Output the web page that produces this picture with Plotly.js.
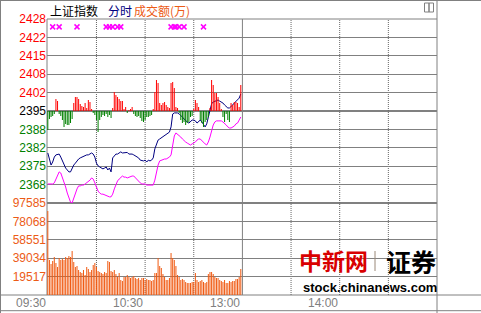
<!DOCTYPE html>
<html><head><meta charset="utf-8">
<script src="https://cdn.plot.ly/plotly-3.0.1.min.js"></script>
<style>html,body{margin:0;padding:0;background:#fff;}#chart{width:481px;height:313px;}</style>
</head><body><div id="chart"></div>
<script>
const prevClose = 2395.3;
const timeLabels = ['09:30', '10:30', '13:00', '14:00'];
const timeLabelMinutes = [0, 60, 120, 180];
const priceLabels = ['2368', '2375', '2382', '2388', '2395', '2402', '2408', '2415', '2422', '2428'];
const pctLabels = ['1.12%', '0.84%', '0.56%', '0.28%', '0.00%', '0.28%', '0.56%', '0.84%', '1.12%', '1.40%'];
const pctSteps = [-1.12, -0.84, -0.56, -0.28, 0, 0.28, 0.56, 0.84, 1.12, 1.40];
const volTicks = [19517, 39034, 58551, 78068, 97585];
const volLabels = ['19517', '39034', '58551', '78068', '97585'];

// minute index from 09:30
const indexPrice = [
2380.0,2378.2,2375.6,2376.7,2378.5,2379.3,2379.6,2379.6,2378.5,2377.1,
2375.6,2374.5,2373.8,2373.1,2373.1,2374.5,2375.6,2376.3,2377.1,2377.8,
2378.2,2378.5,2378.9,2378.9,2379.3,2379.3,2379.6,2380.0,2379.6,2378.5,
2376.3,2375.3,2374.9,2374.5,2374.2,2374.5,2374.9,2373.8,2374.5,2373.1,
2378.2,2378.9,2379.6,2379.6,2380.0,2380.4,2380.0,2380.0,2380.0,2380.2,
2379.6,2379.6,2379.6,2379.3,2378.9,2378.5,2378.2,2377.4,2377.1,2377.1,
2377.4,2376.7,2377.4,2377.1,2377.4,2378.2,2381.5,2382.9,2384.7,2385.1,
2385.5,2385.8,2386.2,2386.6,2386.9,2387.6,2389.5,2394.2,2394.6,2394.6,
2394.6,2394.2,2393.8,2393.1,2392.4,2391.7,2391.3,2390.9,2391.3,2392.0,
2392.0,2391.7,2390.9,2391.3,2392.0,2391.3,2390.2,2389.5,2390.6,2392.7,
2394.9,2397.9,2398.6,2398.9,2398.9,2399.3,2398.9,2398.6,2398.2,2397.5,
2396.8,2396.4,2396.4,2396.8,2397.5,2398.2,2398.9,2399.3,2400.0,2401.5
];
const leadPrice = [
2368.7,2368.7,2368.7,2368.7,2369.1,2370.5,2372.0,2373.1,2372.7,2371.2,
2369.4,2367.6,2365.4,2363.6,2362.1,2361.8,2363.6,2365.4,2366.9,2368.0,
2368.0,2368.3,2368.3,2368.7,2369.1,2369.4,2370.1,2370.9,2370.5,2369.1,
2367.6,2366.1,2365.4,2365.0,2365.0,2364.7,2364.7,2364.3,2364.0,2364.0,
2365.0,2366.9,2368.7,2369.8,2370.5,2371.2,2371.6,2371.2,2371.2,2370.9,
2371.2,2371.6,2371.6,2371.6,2370.9,2370.5,2369.8,2369.1,2368.7,2368.7,
2368.7,2368.3,2368.3,2368.3,2368.3,2368.3,2370.1,2373.1,2375.6,2377.1,
2377.4,2377.4,2377.8,2377.8,2378.2,2378.5,2379.3,2382.9,2386.2,2387.3,
2386.9,2386.2,2385.8,2385.1,2384.4,2384.0,2383.6,2383.3,2382.9,2383.3,
2383.6,2384.0,2384.7,2385.1,2385.1,2384.4,2384.0,2383.3,2382.9,2384.0,
2385.8,2388.0,2390.2,2391.3,2391.7,2391.7,2391.7,2391.7,2391.3,2390.9,
2390.2,2389.5,2389.1,2389.1,2389.5,2389.8,2390.6,2390.9,2392.0,2393.1
];
const strength = [
-19,-8,-6,-5,-3,12,10,-3,-5,-9,
-16,-13,-14,-14,-12,-8,8,14,14,12,
7,5,4,8,3,11,9,2,-2,-4,
-9,-21,-9,-6,-4,-5,-3,-6,-4,-7,
3,19,16,14,12,10,10,2,4,-2,
1,2,4,-3,-5,-6,-5,-7,-10,-11,
-9,-6,-6,-5,-4,2,19,31,28,8,
6,8,9,6,4,3,28,29,23,4,
3,-2,-9,-12,-11,-14,-12,-11,-6,-5,
2,11,8,4,-9,-12,-16,-11,-9,-6,
3,31,26,18,18,14,8,2,-6,-11,
-3,-9,-11,8,6,9,9,8,4,26
];
const volume = [
89120,37140,32890,36070,40320,33950,29710,39260,37140,38200,
37140,40320,39260,41380,40320,46680,35010,29710,30770,26530,
24400,23340,26530,21220,29710,27590,24400,26530,31830,33950,
29710,25460,24400,23340,22280,24400,23340,36070,35010,25460,
24400,26530,22280,19100,23340,15920,14850,19100,19100,21220,
19100,18040,19100,20160,18040,16980,18040,15920,18040,18040,
15920,16980,15920,15920,14850,15920,23340,23340,39260,30770,
28650,22280,19100,15920,15920,18040,44560,39260,37140,30770,
21220,19100,15920,16980,15920,13790,12730,12730,12730,13790,
13790,23340,15920,13790,14850,15920,13790,12730,13790,22280,
24400,24400,22280,19100,18040,18040,15920,14850,13790,15920,
12730,12730,14850,13790,14850,14850,16980,16980,19100,27590
];
const markerMinutes = [3, 7, 18, 36, 38, 40, 43, 45, 76, 78, 79, 81, 84, 96];

const minutes = indexPrice.map((_, i) => i);
const RED = '#ff0000', GREEN = '#008000', ORANGE = '#ec5b16', GRID = '#808080';
const priceTicks = pctSteps.map(p => prevClose * (1 + p / 100));
const colorFor = (k) => k < 4 ? GREEN : (k === 4 ? '#000000' : RED);
const leftText = priceLabels.map((t, k) => `<span style="color:${colorFor(k)}">${t}</span>`);
const rightText = pctLabels.map((t, k) => `<span style="color:${colorFor(k)}">${t}</span>`);
const markerLevel = prevClose * (1 + 1.28 / 100);

const traces = [
  {type: 'bar', x: minutes, y: volume, xaxis: 'x', yaxis: 'y3', width: 0.62,
   marker: {color: '#f05a12', line: {width: 0}}, hoverinfo: 'skip'},
  {type: 'bar', x: minutes, y: strength, xaxis: 'x', yaxis: 'y5', width: 0.62,
   marker: {color: strength.map(v => v >= 0 ? RED : GREEN), line: {width: 0}}, hoverinfo: 'skip'},
  {type: 'scatter', mode: 'lines', x: minutes, y: leadPrice, xaxis: 'x', yaxis: 'y',
   line: {color: '#ff00ff', width: 1}, hoverinfo: 'skip'},
  {type: 'scatter', mode: 'lines', x: minutes, y: indexPrice, xaxis: 'x', yaxis: 'y',
   line: {color: '#000080', width: 1}, hoverinfo: 'skip'},
  {type: 'scatter', mode: 'markers', x: markerMinutes, y: markerMinutes.map(() => markerLevel),
   xaxis: 'x', yaxis: 'y', marker: {symbol: 'x-thin-open', size: 5, color: '#ff00ff', line: {width: 1.5, color: '#ff00ff'}},
   hoverinfo: 'skip'}
];

const px = (p) => (p - 47) / 390;
const py = (p) => (295 - p) / 276;
const lineShape = (o) => Object.assign({type: 'line', layer: 'below', line: {color: GRID, width: 1}}, o);

const shapes = [
  lineShape({xref: 'paper', yref: 'paper', x0: px(0), x1: px(481), y0: py(0.5), y1: py(0.5)}),
  lineShape({xref: 'paper', yref: 'paper', x0: px(0.5), x1: px(0.5), y0: py(0), y1: py(313)}),
  lineShape({xref: 'paper', yref: 'paper', x0: 1, x1: 1, y0: py(0), y1: py(313)}),
  lineShape({xref: 'paper', yref: 'paper', x0: px(0), x1: px(481), y0: 0, y1: 0}),
  lineShape({xref: 'paper', yref: 'paper', x0: px(0), x1: px(481), y0: py(310.7), y1: py(310.7)}),
  lineShape({xref: 'paper', yref: 'paper', x0: 0, x1: 0, y0: 0, y1: 1}),
  lineShape({xref: 'paper', yref: 'paper', x0: 0, x1: 1, y0: 1, y1: 1}),
  lineShape({xref: 'paper', yref: 'y', x0: 0, x1: 1, y0: prevClose, y1: prevClose, line: {color: GRID, width: 2}}),
  lineShape({xref: 'paper', yref: 'paper', x0: 0, x1: 1, y0: 92 / 276, y1: 92 / 276, line: {color: GRID, width: 2}}),
  lineShape({xref: 'x', yref: 'paper', x0: 120, x1: 120, y0: 0, y1: 1}),
  ...[30, 60, 90, 150, 180, 210].map(m => lineShape({xref: 'x', yref: 'paper', x0: m, x1: m, y0: 0, y1: 1,
     line: {color: '#666666', width: 1, dash: '1px,1px'}})),
  {type: 'line', layer: 'above', xref: 'paper', yref: 'paper', x0: px(375), x1: px(375), y0: py(251), y1: py(271),
   line: {color: '#9a8878', width: 1}},
  {type: 'rect', layer: 'above', xref: 'paper', yref: 'paper', x0: px(424.5), x1: px(429), y0: py(3), y1: py(12),
   line: {color: GRID, width: 1}},
  {type: 'rect', layer: 'above', xref: 'paper', yref: 'paper', x0: px(429), x1: px(433.5), y0: py(3), y1: py(12),
   line: {color: GRID, width: 1}}
];

const annFont = {family: 'Liberation Sans, Arial, sans-serif', size: 12, color: GRID};
const annotations = [
  ...timeLabels.map((t, i) => ({xref: 'x', yref: 'paper', x: timeLabelMinutes[i], y: py(303), text: t,
     xanchor: 'right', yanchor: 'middle', showarrow: false, font: annFont})),
  {xref: 'paper', yref: 'paper', x: px(48), y: py(10), text: '上证指数', xanchor: 'left', yanchor: 'middle',
   showarrow: false, font: {family: 'Noto Sans CJK SC', size: 12, color: '#000000'}},
  {xref: 'paper', yref: 'paper', x: px(106), y: py(10), text: '分时', xanchor: 'left', yanchor: 'middle',
   showarrow: false, font: {family: 'Noto Sans CJK SC', size: 12, color: '#000080'}},
  {xref: 'paper', yref: 'paper', x: px(132), y: py(10), text: '成交额(万)', xanchor: 'left', yanchor: 'middle',
   showarrow: false, font: {family: 'Noto Sans CJK SC', size: 12, color: ORANGE}},
  {xref: 'paper', yref: 'paper', x: px(333), y: py(260), text: '<b>中新网</b>', xanchor: 'center', yanchor: 'middle',
   showarrow: false, font: {family: 'Noto Sans CJK SC', size: 23, color: '#d90000'}},
  {xref: 'paper', yref: 'paper', x: px(411), y: py(261), text: '<b>证券</b>', xanchor: 'center', yanchor: 'middle',
   showarrow: false, font: {family: 'Noto Sans CJK SC', size: 25, color: '#000000'}},
  {xref: 'paper', yref: 'paper', x: px(370), y: py(287), text: '<b>stock.chinanews.com</b>', xanchor: 'center', yanchor: 'middle',
   showarrow: false, font: {family: 'Liberation Sans, Arial, sans-serif', size: 13, color: '#000000'}}
];

const tickFont = {family: 'Liberation Sans, Arial, sans-serif', size: 12};
const layout = {
  width: 481, height: 313,
  margin: {l: 47, r: 44, t: 19, b: 18, pad: 0},
  paper_bgcolor: '#ffffff', plot_bgcolor: '#ffffff',
  showlegend: false, barmode: 'overlay', hovermode: false,
  xaxis: {range: [-0.5, 240], showgrid: false, zeroline: false, showline: false, showticklabels: false, ticks: '', fixedrange: true},
  yaxis: {domain: [92 / 276, 1], range: [prevClose * 0.986, prevClose * 1.014], tickvals: priceTicks, ticktext: leftText,
          tickfont: tickFont, showgrid: true, gridcolor: GRID, gridwidth: 1, zeroline: false, showline: false, ticks: ''},
  yaxis2: {overlaying: 'y', side: 'right', range: [prevClose * 0.986, prevClose * 1.014], tickvals: priceTicks, ticktext: rightText,
          tickfont: tickFont, showgrid: false, zeroline: false, showline: false, ticks: ''},
  yaxis3: {domain: [0, 92 / 276], range: [0, 97585], tickvals: volTicks, ticktext: volLabels,
          tickfont: Object.assign({color: ORANGE}, tickFont), showgrid: true, gridcolor: GRID, gridwidth: 1, zeroline: false, showline: false, ticks: ''},
  yaxis4: {overlaying: 'y3', side: 'right', range: [0, 97585], tickvals: volTicks, ticktext: volLabels,
          tickfont: Object.assign({color: ORANGE}, tickFont), showgrid: false, zeroline: false, showline: false, ticks: ''},
  yaxis5: {overlaying: 'y', range: [-92, 92], visible: false, showgrid: false, zeroline: false},
  shapes: shapes,
  annotations: annotations
};

Plotly.newPlot('chart', traces, layout, {displayModeBar: false, staticPlot: true});
</script>
</body></html>
